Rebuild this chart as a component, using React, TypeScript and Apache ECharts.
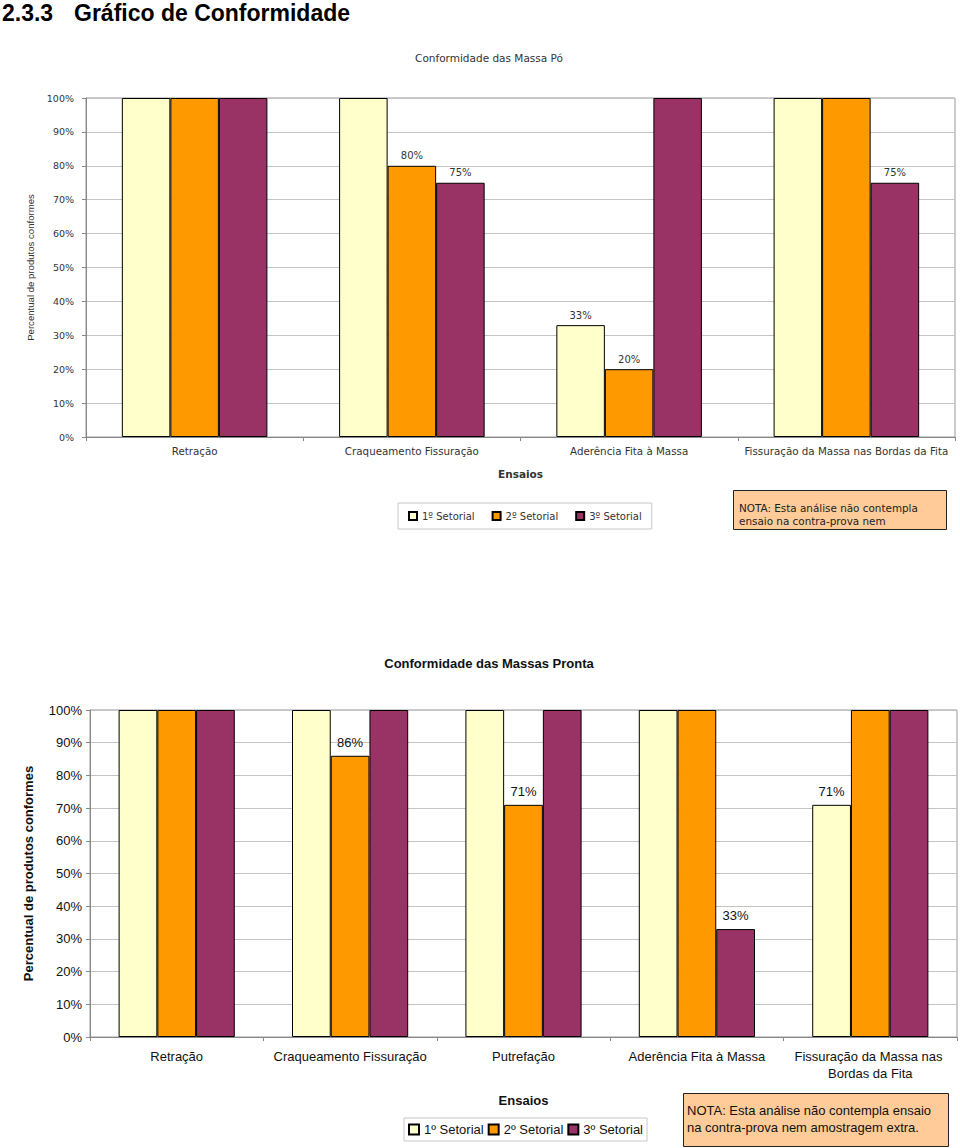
import React, { useEffect, useRef } from "react";
import * as echarts from "echarts";

const seriesNames = ["1º Setorial", "2º Setorial", "3º Setorial"];
const seriesColors = ["#FFFFCC", "#FF9900", "#993366"];

const powderCategories = [
  "Retração",
  "Craqueamento Fissuração",
  "Aderência Fita à Massa",
  "Fissuração da Massa nas Bordas da Fita",
];
const powder1 = [100, 100, 33, 100];
const powder2 = [100, 80, 20, 100];
const powder3 = [100, 75, 100, 75];

const readyCategories = [
  "Retração",
  "Craqueamento Fissuração",
  "Putrefação",
  "Aderência Fita à Massa",
  "Fissuração da Massa nas Bordas da Fita",
];
const ready1 = [100, 100, 100, 100, 71];
const ready2 = [100, 86, 71, 100, 100];
const ready3 = [100, 100, 100, 33, 100];

const yTicks = { min: 0, max: 100, interval: 10 };

const TOP_FONT = "DejaVu Sans";
const BOT_FONT = "Liberation Sans, Arial, sans-serif";

export default function App() {
  const ref = useRef<HTMLDivElement>(null);

  useEffect(() => {
    if (!ref.current) return;
    const chart = echarts.init(ref.current, undefined, { renderer: "svg" });

    const labelFmt = (p: any) => (p.value < 100 ? p.value + "%" : "");

    const mkSeries = (data: number[][], idx: number, font: string, size: number, dist: number, color: string) =>
      data.map((d, i) => ({
        name: seriesNames[i],
        type: "bar",
        xAxisIndex: idx,
        yAxisIndex: idx,
        data: d,
        barGap: "0%",
        barCategoryGap: "33%",
        itemStyle: { color: seriesColors[i], borderColor: "#000", borderWidth: 1 },
        label: {
          show: true,
          position: "top",
          distance: dist,
          formatter: labelFmt,
          fontFamily: font,
          fontSize: size,
          color,
        },
      }));

    const option: any = {
      animation: false,
      backgroundColor: "#fff",
      grid: [
        { left: 86, top: 98, width: 869, height: 339, show: true, borderColor: "#999", borderWidth: 1 },
        { left: 90, top: 710, width: 867, height: 327, show: true, borderColor: "#999", borderWidth: 1 },
      ],
      xAxis: [
        {
          type: "category",
          gridIndex: 0,
          data: powderCategories,
          axisLine: { lineStyle: { color: "#888" } },
          axisTick: { show: true, length: 4, lineStyle: { color: "#888" } },
          axisLabel: { interval: 0, margin: 9, fontFamily: TOP_FONT, fontSize: 10.3, color: "#333" },
          name: "Ensaios",
          nameLocation: "middle",
          nameGap: 31,
          nameTextStyle: { fontFamily: TOP_FONT, fontSize: 10.5, fontWeight: "bold", color: "#333" },
        },
        {
          type: "category",
          gridIndex: 1,
          data: readyCategories,
          axisLine: { lineStyle: { color: "#888" } },
          axisTick: { show: true, length: 4, lineStyle: { color: "#888" } },
          axisLabel: {
            interval: 0,
            margin: 11,
            fontFamily: BOT_FONT,
            fontSize: 13,
            color: "#111",
            width: 168,
            overflow: "break",
            lineHeight: 17,
          },
          name: "Ensaios",
          nameLocation: "middle",
          nameGap: 57,
          nameTextStyle: { fontFamily: BOT_FONT, fontSize: 13, fontWeight: "bold", color: "#111" },
        },
      ],
      yAxis: [
        {
          type: "value",
          gridIndex: 0,
          ...yTicks,
          axisLine: { show: true, lineStyle: { color: "#888" } },
          axisTick: { show: true, length: 4, lineStyle: { color: "#888" } },
          splitLine: { lineStyle: { color: "#c4c4c4" } },
          axisLabel: { formatter: "{value}%", margin: 12, fontFamily: TOP_FONT, fontSize: 9.5, color: "#333" },
          name: "Percentual de produtos conformes",
          nameLocation: "middle",
          nameGap: 51,
          nameTextStyle: { fontFamily: BOT_FONT, fontSize: 9.6, color: "#333" },
        },
        {
          type: "value",
          gridIndex: 1,
          ...yTicks,
          axisLine: { show: true, lineStyle: { color: "#888" } },
          axisTick: { show: true, length: 4, lineStyle: { color: "#888" } },
          splitLine: { lineStyle: { color: "#c4c4c4" } },
          axisLabel: { formatter: "{value}%", margin: 8, fontFamily: BOT_FONT, fontSize: 13, color: "#111" },
          name: "Percentual de produtos conformes",
          nameLocation: "middle",
          nameGap: 55,
          nameTextStyle: { fontFamily: BOT_FONT, fontSize: 13, fontWeight: "bold", color: "#111" },
        },
      ],
      legend: [
        {
          data: seriesNames,
          left: 398,
          top: 503,
          orient: "horizontal",
          itemWidth: 8,
          itemHeight: 8,
          itemGap: 17,
          padding: [8, 10],
          borderColor: "#c8c8c8",
          borderWidth: 1,
          icon: "rect",
          textStyle: { fontFamily: TOP_FONT, fontSize: 10, color: "#333" },
        },
        {
          data: seriesNames,
          left: 404,
          top: 1118,
          orient: "horizontal",
          itemWidth: 10,
          itemHeight: 10,
          itemGap: 4,
          padding: [5, 4],
          borderColor: "#c8c8c8",
          borderWidth: 1,
          icon: "rect",
          textStyle: { fontFamily: BOT_FONT, fontSize: 13, color: "#111" },
        },
      ],
      graphic: [
        {
          type: "text",
          left: 2,
          top: 1,
          style: { text: "2.3.3", font: "bold 23px Liberation Sans, Arial", fill: "#000" },
        },
        {
          type: "text",
          left: 74,
          top: 1,
          style: { text: "Gráfico de Conformidade", font: "bold 23px Liberation Sans, Arial", fill: "#000" },
        },
        {
          type: "text",
          x: 489,
          y: 58,
          style: {
            text: "Conformidade das Massa Pó",
            font: "10.5px DejaVu Sans",
            fill: "#333",
            textAlign: "center",
            textVerticalAlign: "middle",
          },
        },
        {
          type: "text",
          x: 489,
          y: 663,
          style: {
            text: "Conformidade das Massas Pronta",
            font: "bold 13px Liberation Sans, Arial",
            fill: "#111",
            textAlign: "center",
            textVerticalAlign: "middle",
          },
        },
        {
          type: "rect",
          shape: { x: 733.5, y: 490.5, width: 213, height: 39 },
          style: { fill: "#FFCC99", stroke: "#222", lineWidth: 1 },
        },
        {
          type: "text",
          x: 739,
          y: 508,
          style: {
            text: "NOTA: Esta análise não contempla",
            font: "10.4px DejaVu Sans",
            fill: "#222",
            textVerticalAlign: "middle",
          },
        },
        {
          type: "text",
          x: 739,
          y: 521,
          style: {
            text: "ensaio na contra-prova nem",
            font: "10.4px DejaVu Sans",
            fill: "#222",
            textVerticalAlign: "middle",
          },
        },
        {
          type: "rect",
          shape: { x: 683.5, y: 1093.5, width: 265, height: 53 },
          style: { fill: "#FFCC99", stroke: "#222", lineWidth: 1 },
        },
        {
          type: "text",
          x: 687,
          y: 1110,
          style: {
            text: "NOTA: Esta análise não contempla ensaio",
            font: "13px Liberation Sans, Arial",
            fill: "#111",
            textVerticalAlign: "middle",
          },
        },
        {
          type: "text",
          x: 687,
          y: 1127,
          style: {
            text: "na contra-prova nem amostragem extra.",
            font: "13px Liberation Sans, Arial",
            fill: "#111",
            textVerticalAlign: "middle",
          },
        },
      ],
      series: [
        ...mkSeries([powder1, powder2, powder3], 0, TOP_FONT, 10, 5, "#333"),
        ...mkSeries([ready1, ready2, ready3], 1, BOT_FONT, 13, 7, "#111"),
      ],
    };

    chart.setOption(option);
    return () => chart.dispose();
  }, []);

  return (
    <div
      ref={ref}
      style={{ position: "absolute", left: 0, top: 0, width: 960, height: 1148, background: "#fff" }}
    />
  );
}
